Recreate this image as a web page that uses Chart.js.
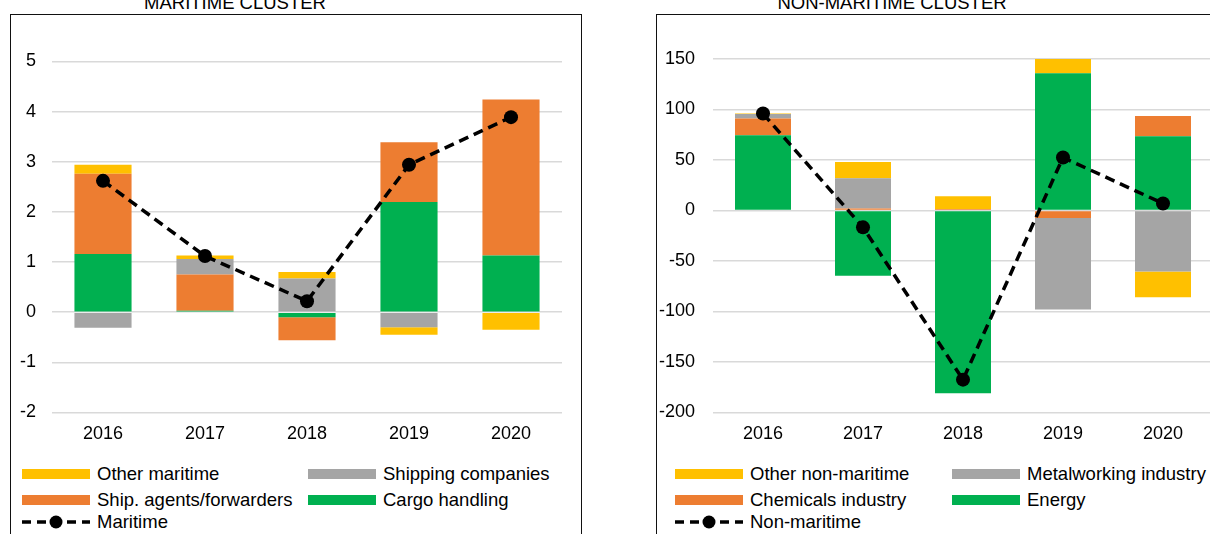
<!DOCTYPE html>
<html>
<head>
<meta charset="utf-8">
<script src="https://cdn.jsdelivr.net/npm/chart.js@4.4.1/dist/chart.umd.min.js"></script>
<style>
  html, body { margin: 0; padding: 0; background: #fff; }
  body { width: 1210px; height: 534px; overflow: hidden; position: relative; font-family: "Liberation Sans", Arial, sans-serif; color: #000; }
  .panel { position: absolute; top: 14px; height: 560px; border: 1.5px solid #111; box-sizing: border-box; }
  .title { position: absolute; top: -6px; font-size: 18.5px; line-height: 18px; white-space: nowrap; transform: translateX(-50%); }
  .box { position: absolute; top: 14px; height: 440px; }
  .legend { position: absolute; font-size: 18.5px; }
  .item { position: absolute; display: flex; align-items: center; white-space: nowrap; height: 20px; }
  .sw { width: 68px; height: 10px; margin-right: 7px; }
</style>
</head>
<body>
<div class="panel" style="left:10px;width:572px;"></div>
<div class="panel" style="left:656px;width:600px;"></div>
<div class="title" style="left:235px;">MARITIME CLUSTER</div>
<div class="title" style="left:892px;">NON-MARITIME CLUSTER</div>
<div class="box" style="left:10px;width:572px;"><canvas id="left"></canvas></div>
<div class="box" style="left:656px;width:580px;"><canvas id="right"></canvas></div>
<div id="legLeft"></div>
<div id="legRight"></div>
<script>
// categories
const years = ['2016', '2017', '2018', '2019', '2020'];

// maritime cluster
const cargoHandling = [1.16, 0.03, -0.10, 2.20, 1.13];
const shipAgents = [1.60, 0.72, -0.46, 1.19, 3.11];
const shippingCompanies = [-0.31, 0.31, 0.67, -0.30, 0];
const otherMaritime = [0.18, 0.07, 0.13, -0.15, -0.35];
const maritime = [2.62, 1.12, 0.22, 2.94, 3.89];
const leftTicks = [-2, 5, 1];

// non-maritime cluster
const energy = [74.5, -64.5, -181, 136, 73.5];
const chemicals = [16.5, 2, 1.5, -7.5, 20];
const metalworking = [4.5, 30, 0, -90.5, -60.5];
const otherNonMaritime = [0.5, 16, 12.5, 14, -25.5];
const nonMaritime = [96, -16.7, -167.5, 52.5, 7];
const rightTicks = [-200, 150, 50];

const YELLOW = '#FFC000', GREY = '#A5A5A5', ORANGE = '#ED7D31', GREEN = '#00B050';
const FONT = { family: '"Liberation Sans", Arial, sans-serif', size: 18 };

function bar(label, data, color) {
	return { type: 'bar', label: label, data: data, backgroundColor: color, stack: 'bars', order: 1,
		barPercentage: 0.56, categoryPercentage: 1, borderWidth: 0 };
}

function line(label, data) {
	return { type: 'line', label: label, data: data, stack: 'line', order: 0,
		borderColor: '#000', borderWidth: 3.5, borderDash: [10, 6], fill: false, tension: 0,
		pointRadius: 7, pointBackgroundColor: '#000', pointBorderWidth: 0 };
}

function makeChart(id, datasets, ticks, yWidth, padTop, padRight, labelPad) {
	return new Chart(document.getElementById(id), {
		data: { labels: years, datasets: datasets },
		options: {
			responsive: true,
			maintainAspectRatio: false,
			animation: false,
			layout: { padding: { top: padTop, right: padRight, left: 0, bottom: 0 } },
			plugins: { legend: { display: false }, tooltip: { enabled: false } },
			scales: {
				x: {
					stacked: true,
					grid: { display: false, drawTicks: false },
					border: { display: false },
					ticks: { color: '#000', font: FONT, padding: 11, maxRotation: 0 },
					afterFit: (s) => { s.height = 41.5; }
				},
				y: {
					stacked: true,
					min: ticks[0], max: ticks[1],
					grid: { color: '#d9d9d9', lineWidth: 1.5, drawTicks: false },
					border: { display: false },
					ticks: { color: '#000', font: FONT, stepSize: ticks[2], padding: labelPad },
					afterFit: (s) => { s.width = yWidth; }
				}
			}
		}
	});
}

makeChart('left', [
	line('Maritime', maritime),
	bar('Cargo handling', cargoHandling, GREEN),
	bar('Ship. agents/forwarders', shipAgents, ORANGE),
	bar('Shipping companies', shippingCompanies, GREY),
	bar('Other maritime', otherMaritime, YELLOW)
], leftTicks, 42, 47.5, 20, 16);

makeChart('right', [
	line('Non-maritime', nonMaritime),
	bar('Energy', energy, GREEN),
	bar('Chemicals industry', chemicals, ORANGE),
	bar('Metalworking industry', metalworking, GREY),
	bar('Other non-maritime', otherNonMaritime, YELLOW)
], rightTicks, 57, 45, 23, 18);

// legends (Excel style: two columns, line entry on its own row)
const lineIcon = '<svg width="70" height="14" style="margin-right:6px"><line x1="1" y1="7" x2="69" y2="7" stroke="#000" stroke-width="3.5" stroke-dasharray="9,6"/><circle cx="35" cy="7" r="6.5" fill="#000"/></svg>';

function legend(el, x1, x2, entries, lineLabel) {
	const box = document.getElementById(el);
	let html = '';
	entries.forEach((e, i) => {
		const x = i % 2 === 0 ? x1 : x2;
		const y = 464 + Math.floor(i / 2) * 25.5;
		html += `<div class="item legend" style="left:${x}px;top:${y}px"><span class="sw" style="background:${e[1]}"></span>${e[0]}</div>`;
	});
	html += `<div class="item legend" style="left:${x1 - 1}px;top:${464 + 48}px">${lineIcon}${lineLabel}</div>`;
	box.innerHTML = html;
}

legend('legLeft', 22, 308, [
	['Other maritime', YELLOW], ['Shipping companies', GREY],
	['Ship. agents/forwarders', ORANGE], ['Cargo handling', GREEN]
], 'Maritime');

legend('legRight', 675, 952, [
	['Other non-maritime', YELLOW], ['Metalworking industry', GREY],
	['Chemicals industry', ORANGE], ['Energy', GREEN]
], 'Non-maritime');
</script>
</body>
</html>
